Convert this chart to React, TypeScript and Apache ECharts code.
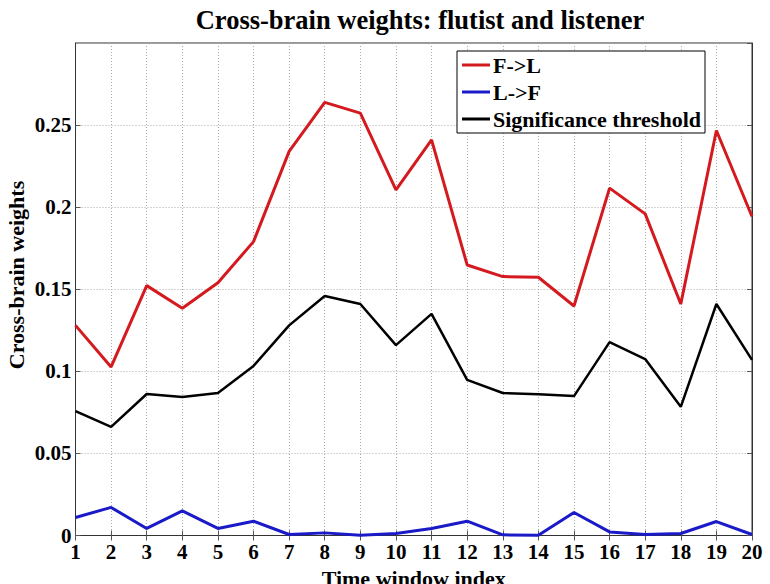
import React, { useEffect, useRef } from "react";
import * as echarts from "echarts";

const windows = [1, 2, 3, 4, 5, 6, 7, 8, 9, 10, 11, 12, 13, 14, 15, 16, 17, 18, 19, 20];
const fToL = [0.128, 0.1027, 0.1522, 0.1384, 0.154, 0.179, 0.234, 0.2638, 0.2573, 0.2105, 0.241, 0.1648, 0.1577, 0.1573, 0.1398, 0.2116, 0.1959, 0.141, 0.2467, 0.1943];
const lToF = [0.011, 0.0171, 0.0043, 0.015, 0.0043, 0.0087, 0.0006, 0.0016, 0.0002, 0.0012, 0.0043, 0.0087, 0.0004, 0.0002, 0.014, 0.0022, 0.0006, 0.0012, 0.0085, 0.0006];
const threshold = [0.0758, 0.0662, 0.0862, 0.0843, 0.0868, 0.1033, 0.128, 0.1459, 0.141, 0.116, 0.135, 0.0948, 0.0868, 0.086, 0.0849, 0.1178, 0.1075, 0.0784, 0.141, 0.107];

const FONT = "'Liberation Serif', 'Times New Roman', serif";

export default function App() {
  const ref = useRef<HTMLDivElement>(null);
  useEffect(() => {
    if (!ref.current) return;
    const chart = echarts.init(ref.current, undefined, { renderer: "svg" });
    const pairs = (vals: number[]) => windows.map((w, i) => [w, vals[i]]);
    const tickStyle = { fontFamily: FONT, fontWeight: "bold" as const, fontSize: 21, color: "#000" };
    const nameStyle = { fontFamily: FONT, fontWeight: "bold" as const, fontSize: 22, color: "#000" };
    chart.setOption({
      animation: false,
      backgroundColor: "#fff",
      title: {
        text: "Cross-brain weights: flutist and listener",
        left: 415,
        textAlign: "center",
        top: 1,
        textStyle: { fontFamily: FONT, fontWeight: "bold", fontSize: 26.5, color: "#000" },
      },
      graphic: [
        {
          type: "text",
          x: 16,
          y: 275,
          rotation: Math.PI / 2,
          style: {
            text: "Cross-brain weights",
            font: `bold 22px ${FONT}`,
            fill: "#000",
            textAlign: "center",
            textVerticalAlign: "middle",
          },
          z: 10,
        },
      ],
      legend: {
        orient: "vertical",
        left: 457,
        top: 51,
        backgroundColor: "#fff",
        borderColor: "#000",
        borderWidth: 1,
        borderRadius: 0,
        padding: [3, 4, 3, 5],
        itemGap: 5,
        itemWidth: 28,
        itemHeight: 3,
        icon: "rect",
        textStyle: { ...nameStyle, lineHeight: 22, padding: [0, 0, 0, -2] },
        data: ["F->L", "L->F", "Significance threshold"],
      },
      grid: {
        left: 75.5,
        right: 18,
        top: 43,
        bottom: 48.5,
        show: true,
        borderColor: "#333",
        borderWidth: 1,
        backgroundColor: "#fff",
        containLabel: false,
        outerBoundsMode: "none",
      },
      xAxis: [
        {
          type: "value",
          min: 1,
          max: 20,
          interval: 1,
          name: "Time window index",
          nameLocation: "middle",
          nameGap: 26,
          nameTextStyle: nameStyle,
          axisLine: { show: true, lineStyle: { color: "#333", width: 1 } },
          axisTick: { show: true, inside: true, length: 5, lineStyle: { color: "#555" } },
          axisLabel: { ...tickStyle, margin: 6 },
          splitLine: { show: true, lineStyle: { color: "#aaa", type: [1, 2], width: 1 } },
        },
        {
          type: "value",
          position: "top",
          min: 1,
          max: 20,
          interval: 1,
          axisLine: { show: true, lineStyle: { color: "#333", width: 1 } },
          axisTick: { show: true, inside: true, length: 5, lineStyle: { color: "#555" } },
          axisLabel: { show: false },
          splitLine: { show: false },
        },
      ],
      yAxis: [
        {
          type: "value",
          min: 0,
          max: 0.3,
          interval: 0.05,
          axisLine: { show: true, lineStyle: { color: "#333", width: 1 } },
          axisTick: { show: true, inside: true, length: 5, lineStyle: { color: "#555" } },
          axisLabel: { ...tickStyle, margin: 4, showMaxLabel: false },
          splitLine: { show: true, lineStyle: { color: "#aaa", type: [1, 2], width: 1 } },
        },
        {
          type: "value",
          position: "right",
          min: 0,
          max: 0.3,
          interval: 0.05,
          axisLine: { show: true, lineStyle: { color: "#333", width: 1 } },
          axisTick: { show: true, inside: true, length: 5, lineStyle: { color: "#555" } },
          axisLabel: { show: false },
          splitLine: { show: false },
        },
      ],
      series: [
        {
          name: "F->L",
          type: "line",
          data: pairs(fToL),
          symbol: "none",
          color: "#d41a1f",
          lineStyle: { width: 3, color: "#d41a1f" },
          z: 3,
        },
        {
          name: "L->F",
          type: "line",
          data: pairs(lToF),
          symbol: "none",
          color: "#1a1ac8",
          lineStyle: { width: 3, color: "#1a1ac8" },
          z: 3,
        },
        {
          name: "Significance threshold",
          type: "line",
          data: pairs(threshold),
          symbol: "none",
          color: "#000",
          lineStyle: { width: 2.5, color: "#000" },
          z: 3,
        },
      ],
    });
    return () => chart.dispose();
  }, []);
  return <div ref={ref} style={{ width: 770, height: 584, position: "absolute", left: 0, top: 0 }} />;
}
